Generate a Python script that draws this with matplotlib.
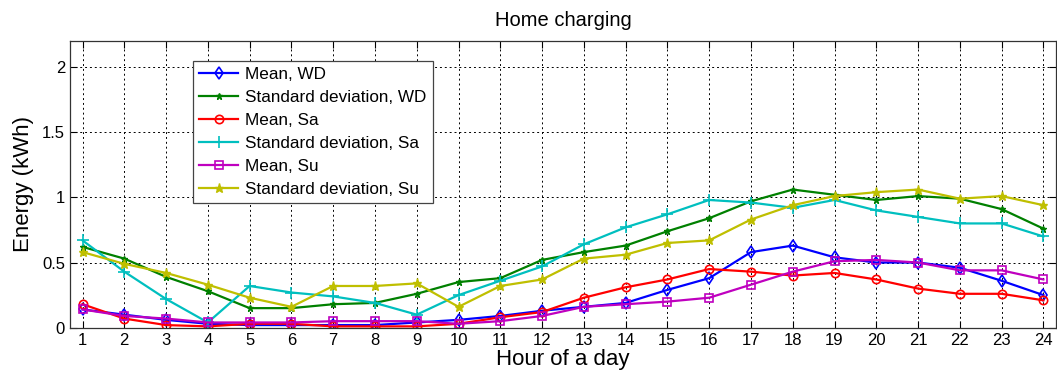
import matplotlib
matplotlib.use("Agg")
import matplotlib.pyplot as plt

hours = list(range(1, 25))
mean_wd = [0.14, 0.10, 0.06, 0.03, 0.02, 0.02, 0.02, 0.02, 0.04, 0.06, 0.09, 0.13,
           0.16, 0.19, 0.29, 0.38, 0.58, 0.63, 0.54, 0.50, 0.50, 0.46, 0.36, 0.25]
std_wd = [0.62, 0.53, 0.39, 0.28, 0.15, 0.15, 0.18, 0.19, 0.26, 0.35, 0.38, 0.52,
          0.58, 0.63, 0.74, 0.84, 0.97, 1.06, 1.02, 0.98, 1.01, 0.99, 0.91, 0.76]
mean_sa = [0.18, 0.07, 0.02, 0.01, 0.03, 0.03, 0.01, 0.01, 0.01, 0.03, 0.08, 0.12,
           0.23, 0.31, 0.37, 0.45, 0.43, 0.40, 0.42, 0.37, 0.30, 0.26, 0.26, 0.21]
std_sa = [0.67, 0.43, 0.22, 0.04, 0.32, 0.27, 0.24, 0.19, 0.10, 0.25, 0.36, 0.47,
          0.64, 0.77, 0.87, 0.98, 0.96, 0.92, 0.98, 0.90, 0.85, 0.80, 0.80, 0.70]
mean_su = [0.14, 0.09, 0.07, 0.04, 0.04, 0.04, 0.05, 0.05, 0.05, 0.03, 0.05, 0.09,
           0.16, 0.18, 0.20, 0.23, 0.33, 0.43, 0.51, 0.52, 0.50, 0.44, 0.44, 0.37]
std_su = [0.58, 0.49, 0.42, 0.33, 0.23, 0.16, 0.32, 0.32, 0.34, 0.16, 0.32, 0.37,
          0.53, 0.56, 0.65, 0.67, 0.83, 0.94, 1.01, 1.04, 1.06, 0.99, 1.01, 0.94]

labels = ["Mean, WD", "Standard deviation, WD", "Mean, Sa",
          "Standard deviation, Sa", "Mean, Su", "Standard deviation, Su"]

plt.rcParams['font.family'] = ['Liberation Sans', 'DejaVu Sans']

fig = plt.figure(figsize=(10.57, 3.79), dpi=100)
ax = fig.add_axes([0.0662, 0.1354, 0.9328, 0.7564])

lw = 1.6
ax.plot(hours, mean_wd, color=(0, 0, 1), marker='d', ms=6, mfc='none', mew=1.2, lw=lw, label=labels[0])
ax.plot(hours, std_wd, color=(0, 0.5, 0), marker='*', ms=5, lw=lw, label=labels[1])
ax.plot(hours, mean_sa, color=(1, 0, 0), marker='o', ms=6, mfc='none', mew=1.2, lw=lw, label=labels[2])
ax.plot(hours, std_sa, color=(0, 0.75, 0.75), marker='+', ms=8, mew=1.2, lw=lw, label=labels[3])
ax.plot(hours, mean_su, color=(0.75, 0, 0.75), marker='s', ms=6, mfc='none', mew=1.2, lw=lw, label=labels[4])
ax.plot(hours, std_su, color=(0.75, 0.75, 0), marker='*', ms=6.5, lw=lw, label=labels[5])

ax.set_xlim(0.7, 24.3)
ax.set_ylim(0, 2.2)
ax.set_xticks(hours)
ax.set_yticks([0, 0.5, 1, 1.5, 2])
ax.set_yticklabels(["0", "0.5", "1", "1.5", "2"])
ax.tick_params(direction='in', top=True, right=True, labelsize=12, length=5)
ax.grid(True, color='black', linestyle=(0, (2, 3)), linewidth=0.7)
for s in ax.spines.values():
    s.set_color('#333333')
    s.set_linewidth(0.9)

ax.set_xlabel("Hour of a day", fontsize=16, labelpad=1)
ax.set_ylabel("Energy (kWh)", fontsize=16, labelpad=6)
ax.set_title("Home charging", fontsize=14.5, pad=11)

leg = ax.legend(loc='upper left', bbox_to_anchor=(0.125, 0.929), fontsize=12.3,
                fancybox=False, framealpha=1, edgecolor='#444444',
                handlelength=2.3, handletextpad=0.4, labelspacing=0.46,
                borderpad=0.35, borderaxespad=0)
leg.get_frame().set_linewidth(0.9)

fig.savefig("out.png", dpi=100)
